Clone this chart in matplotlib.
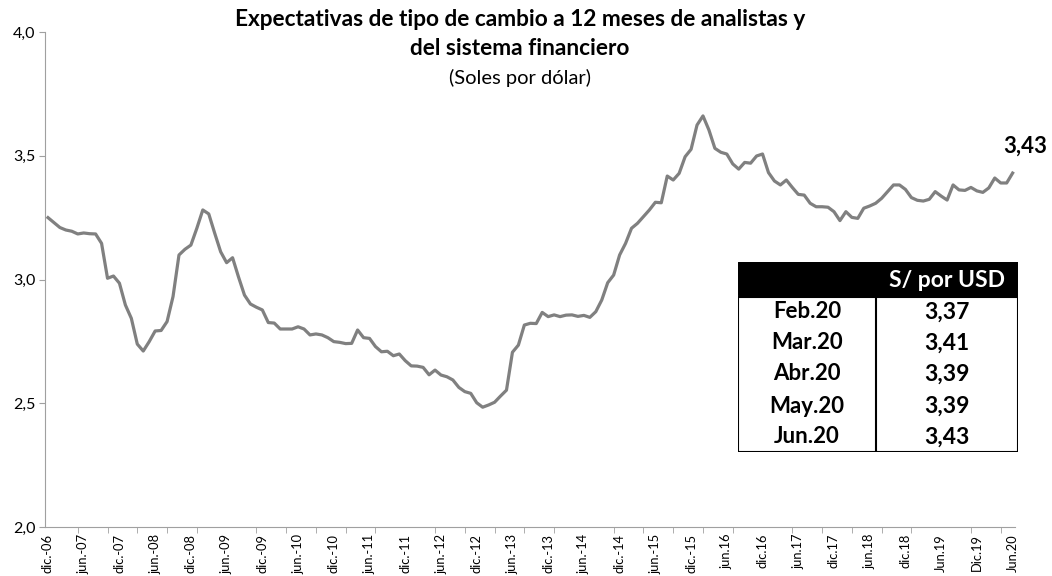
import numpy as np
import matplotlib.pyplot as plt
from matplotlib.patches import Rectangle

plt.rcParams['font.family'] = ['Lato', 'DejaVu Sans']

# monthly expectations, dic.-06 .. jun.-20 (soles per USD)
expectativas = [
    3.25, 3.23, 3.21, 3.20, 3.195, 3.184, 3.188, 3.185, 3.184, 3.146,
    3.005, 3.014, 2.985, 2.897, 2.843, 2.739, 2.711, 2.749, 2.792, 2.794,
    2.830, 2.931, 3.099, 3.122, 3.139, 3.207, 3.281, 3.265, 3.187, 3.112,
    3.068, 3.088, 3.01, 2.937, 2.901, 2.888, 2.877, 2.826, 2.824, 2.80,
    2.80, 2.80, 2.809, 2.80, 2.776, 2.78, 2.776, 2.765, 2.749, 2.746,
    2.741, 2.742, 2.796, 2.765, 2.762, 2.729, 2.708, 2.71, 2.692, 2.699,
    2.672, 2.651, 2.650, 2.645, 2.615, 2.634, 2.614, 2.607, 2.594, 2.564,
    2.547, 2.540, 2.502, 2.484, 2.493, 2.504, 2.529, 2.553, 2.706, 2.735,
    2.816, 2.823, 2.822, 2.867, 2.850, 2.857, 2.850, 2.856, 2.857, 2.851,
    2.855, 2.847, 2.870, 2.917, 2.987, 3.018, 3.099, 3.146, 3.207, 3.227,
    3.254, 3.281, 3.312, 3.31, 3.418, 3.402, 3.429, 3.496, 3.526, 3.624,
    3.661, 3.604, 3.530, 3.514, 3.507, 3.467, 3.446, 3.473, 3.47, 3.499,
    3.507, 3.432, 3.398, 3.382, 3.402, 3.372, 3.344, 3.341, 3.308, 3.294,
    3.294, 3.292, 3.274, 3.238, 3.274, 3.251, 3.247, 3.288, 3.297, 3.308,
    3.328, 3.355, 3.382, 3.382, 3.364, 3.331, 3.320, 3.317, 3.324, 3.355,
    3.337, 3.321, 3.382, 3.362, 3.36, 3.372, 3.358, 3.352, 3.37, 3.41,
    3.39, 3.39, 3.43,
]

etiquetas_x = [
    'dic.-06', 'jun.-07', 'dic.-07', 'jun.-08', 'dic.-08', 'jun.-09', 'dic.-09',
    'jun.-10', 'dic.-10', 'jun.-11', 'dic.-11', 'jun.-12', 'dic.-12', 'jun.-13',
    'dic.-13', 'jun.-14', 'dic.-14', 'jun.-15', 'dic.-15', 'jun.16', 'dic.16',
    'jun.17', 'dic.17', 'jun.18', 'dic.18', 'Jun.19', 'Dic.19', 'Jun.20',
]

tabla_meses = ['Feb.20', 'Mar.20', 'Abr.20', 'May.20', 'Jun.20']
tabla_valores = ['3,37', '3,41', '3,39', '3,39', '3,43']

gris = '#808080'
x = np.arange(len(expectativas))

fig = plt.figure(figsize=(10.52, 5.76), dpi=100)
ax = fig.add_axes([45 / 1052, 1 - 527 / 576, 970 / 1052, 495 / 576])

ax.plot(x, expectativas, color=gris, lw=2.3, solid_joinstyle='round')

ax.set_ylim(2.0, 4.0)
ax.set_xlim(-0.5, 162.4)
ax.set_yticks(np.arange(2.0, 4.01, 0.5))
ax.set_yticklabels([f'{v:.1f}'.replace('.', ',') for v in np.arange(2.0, 4.01, 0.5)],
                   fontsize=11.5)
ax.set_xticks(np.arange(0, len(expectativas), 6))
ax.set_xticklabels(etiquetas_x, rotation=90, fontsize=9.3)
ax.set_xticks(np.arange(0, len(expectativas), 5), minor=True)
ax.tick_params(axis='x', which='major', length=0, pad=5)
ax.tick_params(axis='x', which='minor', length=4, color='#a0a0a0')
ax.tick_params(axis='y', length=4, color='#a0a0a0', pad=3)

for s in ['top', 'right']:
    ax.spines[s].set_visible(False)
for s in ['left', 'bottom']:
    ax.spines[s].set_color('#a0a0a0')

ax.annotate('3,43', (x[-1], expectativas[-1]), xytext=(9, 19),
            textcoords='offset points', ha='center', va='center',
            fontsize=16, fontweight='bold')

fig.text(0.494, 0.967, 'Expectativas de tipo de cambio a 12 meses de analistas y',
         ha='center', va='center', fontsize=16.3, fontweight='bold')
fig.text(0.494, 0.915, 'del sistema financiero', ha='center', va='center',
         fontsize=16.3, fontweight='bold')
fig.text(0.494, 0.865, '(Soles por dólar)', ha='center', va='center', fontsize=14.5)

# summary table
tab = fig.add_axes([738 / 1052, 1 - 452 / 576, 280 / 1052, 190 / 576])
tab.set_xlim(0, 1)
tab.set_ylim(0, 1)
tab.axis('off')
tab.add_patch(Rectangle((0, 0.826), 1, 0.174, facecolor='black', edgecolor='black'))
tab.add_patch(Rectangle((0, 0), 1, 0.815, facecolor='white', edgecolor='black', lw=1.5))
tab.plot([0.493, 0.493], [0, 0.815], color='black', lw=1.5)
tab.text(0.745, 0.905, 'S/ por USD', color='white', fontsize=16.5, fontweight='bold',
         ha='center', va='center')
filas_y = [0.737, 0.574, 0.411, 0.242, 0.079]
for fy, mes, val in zip(filas_y, tabla_meses, tabla_valores):
    tab.text(0.246, fy, mes, fontsize=16, fontweight='bold', ha='center', va='center')
    tab.text(0.745, fy, val, fontsize=16.5, fontweight='bold', ha='center', va='center')

fig.savefig('out.png', dpi=100)
